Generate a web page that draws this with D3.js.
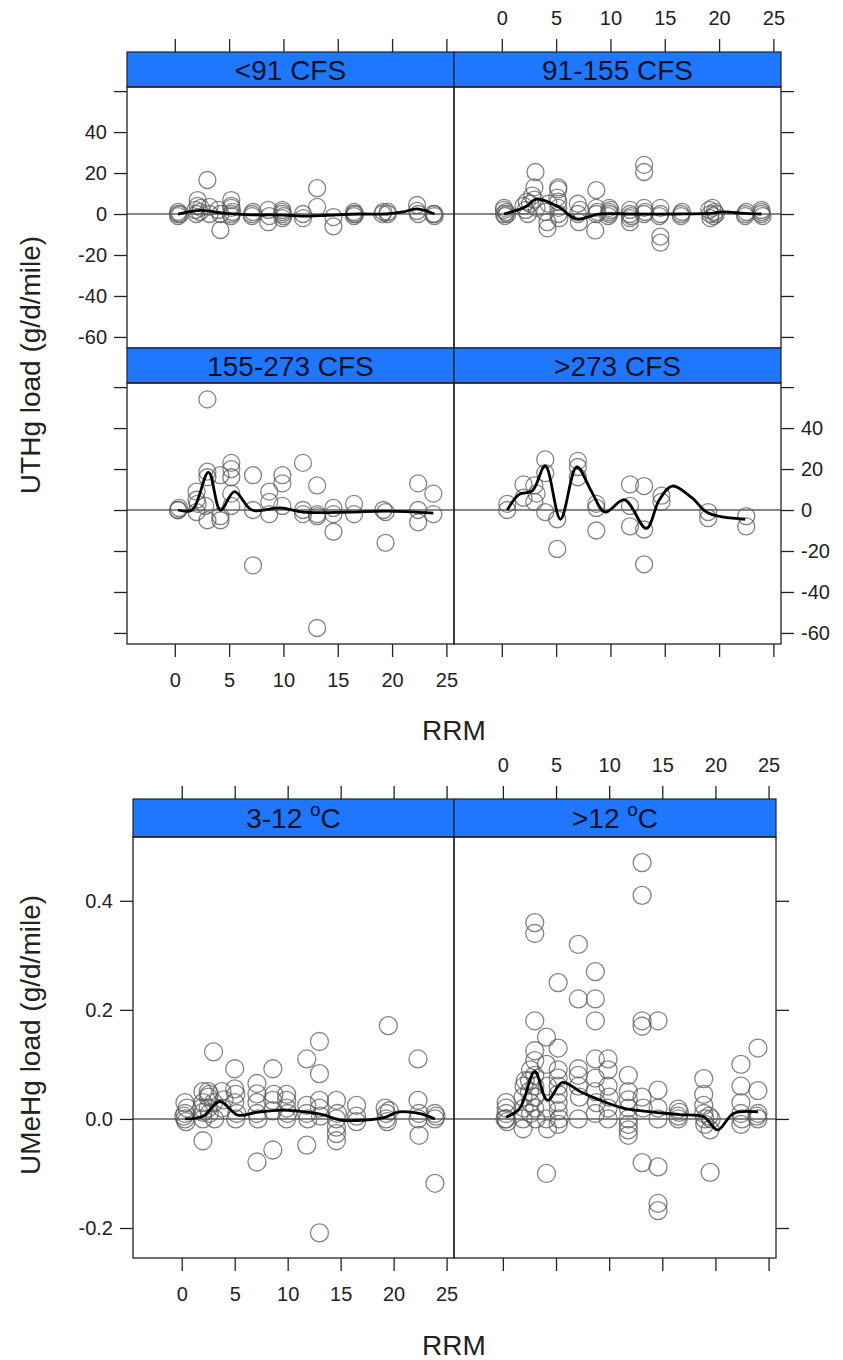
<!DOCTYPE html>
<html>
<head>
<meta charset="utf-8">
<script src="https://cdn.jsdelivr.net/npm/d3@7"></script>
<style>
  body { margin: 0; background: #fff; }
  svg { display: block; font-family: "Liberation Sans", Arial, sans-serif; }
</style>
</head>
<body>
<svg id="chart" width="843" height="1360"></svg>
<script>
/// RRM panels: UTHg by flow class, UMeHg by temperature class ///

// axis ticks
const rrmTicks = [0, 5, 10, 15, 20, 25];
const uthgTicks = [-60, -40, -20, 0, 20, 40, 60];
const uthgTickLabels = ["-60", "-40", "-20", "0", "20", "40", ""];
const umehgTicks = [-0.2, 0, 0.2, 0.4];
const umehgTickLabels = ["-0.2", "0.0", "0.2", "0.4"];

// panel labels
const flowClasses = ["<91 CFS", "91-155 CFS", "155-273 CFS", ">273 CFS"];
const tempClasses = ["3-12", ">12"];

// UTHg load, [RRM, g/d/mile]
const uthgFlow1 = [[0.3,0],[0.3,1],[0.3,-1],[0.5,0],[1.9,2],[2.1,4],[2.1,6.8],[2.3,1],[2.4,3],[2.0,0],
  [3.0,16.6],[3.2,3.5],[3.2,0],[4.2,-7.8],[4.2,0],[4.0,2],[5.2,6.8],[5.2,4],[5.2,3],[5.2,0],[5.2,-1],[5.3,1],
  [7.1,0],[7.1,-1],[7.2,1],[8.6,-4],[8.6,2],[8.7,-1],[9.9,0],[9.9,2],[9.9,-2],[9.9,1],[10.0,-1],
  [11.8,-2],[11.8,0],[13.1,12.6],[13.1,3.5],[14.6,-6],[14.6,-1.5],[16.5,0],[16.5,1],[16.5,-1],[16.6,0],
  [19.1,0],[19.2,1],[19.6,0],[19.6,1],[22.3,4.4],[22.3,1.5],[22.4,0],[23.9,0],[23.9,-1],[23.8,0]];
const uthgFlow1Fit = [[0.3,0],[2.4,1.8],[4.5,0.4],[7,-0.4],[10,-0.5],[12,-1],[14,-0.6],[17,0],[19.5,0],[21,1],[22.3,2.5],[23.9,0]];

const uthgFlow2 = [[0.2,0],[0.2,2],[0.2,3],[0.3,-1],[0.4,1],[0.5,0],
  [2.0,4],[2.2,2],[2.3,6],[2.4,0],[2.6,5],[2.8,9],[3.0,13],[3.1,20.5],[3.2,3],[3.0,7],
  [4.2,-7],[4.2,-4],[4.0,1],[4.3,5],[5.2,13],[5.2,12],[5.2,6],[5.2,3],[5.2,0],[5.3,-2],[5.1,8],
  [7.0,5],[7.0,0],[7.1,-4],[7.2,2],[8.7,11.7],[8.7,3],[8.7,0],[8.6,-8],[8.8,1],
  [9.9,3],[9.9,0],[9.9,1],[10.0,2],[9.8,-1],[11.8,2],[11.8,0],[11.8,-2],[11.8,-4],[11.9,-1],
  [13.1,24],[13.1,20.5],[13.1,3],[13.1,0],[13.2,1],[14.6,3],[14.6,0],[14.6,-11],[14.6,-14],[14.5,-1],
  [16.5,0],[16.5,-1],[16.6,1],[19.1,2],[19.2,0],[19.2,-2],[19.4,3],[19.6,1],[19.7,0],[19.5,-1],
  [22.4,0],[22.5,1],[22.4,-1],[23.9,1],[23.9,0],[24.0,-1],[23.9,2]];
const uthgFlow2Fit = [[0.2,0],[2.2,3.6],[3.2,7.3],[5.2,3.5],[6.9,-2.5],[8.9,0],[12,0],[16,0],[19.2,0.3],[20.3,1],[22.4,0.3],[23.9,0]];

const uthgFlow3 = [[0.3,0],[0.3,0],[0.4,1],[2.0,9],[2.0,5],[2.1,3],[2.0,-1],
  [3.0,54],[3.0,18.7],[3.0,16],[3.0,-5],[2.8,2],[4.2,17],[4.2,-5],[4.2,-3],
  [5.2,23],[5.2,20],[5.2,16],[5.2,8],[5.2,2],[7.2,17],[7.2,-27],[7.2,0],
  [8.7,9],[8.7,4],[8.7,-2],[9.9,17],[9.9,13],[9.9,2],[11.8,23],[11.8,0],[11.8,-2],
  [13.1,12],[13.1,-57.6],[13.1,-2],[13.1,-3],[14.6,-10.6],[14.6,1],[14.6,-2],
  [16.5,3],[16.5,-2],[19.4,-1],[19.4,-16],[19.2,0],[22.4,13],[22.4,0],[22.4,-6],[23.8,8],[23.8,-2]];
const uthgFlow3Fit = [[0.3,0],[1.6,0],[3.1,18.4],[4.2,0],[5.5,9],[7.1,0],[9.7,1],[11.8,-1],[16,-1],[19.5,-0.5],[23.8,-1.5]];

const uthgFlow4 = [[0.5,3],[0.5,0],[2.0,12.5],[2.0,6],[3.0,12],[3.0,4],[3.2,8],
  [4.0,24.7],[4.0,18],[4.0,-1],[5.1,-4.5],[5.1,-19],[7.0,24],[7.0,21],[7.0,16],
  [8.7,3],[8.7,1],[8.7,-10],[11.8,12.5],[11.8,2],[11.8,-8],[13.1,11.7],[13.1,-9.5],[13.1,-26.5],
  [14.7,7],[14.7,4],[19.0,-1],[19.0,-4],[22.5,-3],[22.5,-8]];
const uthgFlow4Fit = [[0.5,0],[1.6,7.6],[2.8,9.3],[4.0,21.5],[5.4,-4.5],[6.9,21],[8.3,8.6],[9.5,-1],[11.3,5],
  [13.3,-9],[14.5,5],[15.7,11.7],[17.5,6],[19,-1.5],[22.4,-4.5]];

// UMeHg load, [RRM, g/d/mile]
const umehgTemp1 = [[0.3,0.03],[0.3,0.01],[0.3,0],[0.4,-0.005],[0.5,0.02],[0.2,0.005],
  [2.0,0.05],[2.0,0.03],[2.0,0.012],[2.0,0],[2.0,-0.04],[1.9,0.02],
  [2.5,0.05],[2.5,0.04],[2.5,0.02],[2.6,0.01],[2.6,0.045],[3.0,0.123],[3.0,0.03],[3.1,0],
  [3.8,0.05],[3.8,0.02],[4.0,0.035],[5.0,0.092],[5.0,0.055],[5.0,0.03],[5.1,0],[5.2,0.01],[5.1,0.045],
  [7.1,0.065],[7.1,0.046],[7.1,0.03],[7.1,0.01],[7.1,-0.079],[7.2,0],
  [8.6,0.092],[8.6,0.034],[8.6,0.015],[8.6,-0.057],[8.7,0.045],
  [9.9,0.045],[9.9,0.034],[9.9,0.02],[9.9,0],[10.0,0.01],
  [11.8,0.11],[11.8,0.025],[11.8,0.01],[11.8,-0.048],[11.9,0],
  [13.0,0.142],[13.0,0.083],[13.0,0.034],[13.0,0.02],[13.0,-0.209],[13.1,0.005],
  [14.6,0.034],[14.6,0],[14.6,-0.015],[14.6,-0.027],[14.6,-0.04],[14.7,0.01],
  [16.5,0.025],[16.5,0.005],[16.5,-0.005],[19.2,0.02],[19.3,0.01],[19.3,0],[19.4,-0.005],[19.5,0.171],[19.6,0.015],
  [22.3,0.11],[22.3,0.034],[22.4,0.01],[22.4,-0.03],[22.3,0],[23.9,0],[23.9,0.01],[23.9,-0.118],[24.0,0.005]];
const umehgTemp1Fit = [[0.3,0],[2,0.005],[3.6,0.032],[5.3,0.007],[7.1,0.012],[9.5,0.016],[12,0.012],[13.5,0.007],
  [15,-0.002],[19,0.002],[20.5,0.013],[22.4,0.01],[23.9,0]];

const umehgTemp2 = [[0.3,0.03],[0.3,0.02],[0.3,0.01],[0.3,0],[0.4,-0.005],[0.2,0],
  [1.9,-0.018],[1.9,0.04],[2.0,0.02],[2.0,0.06],[1.9,0],[2.1,0.07],
  [2.5,0.05],[2.6,0.03],[2.5,0.07],[2.6,0.01],[2.6,0.09],
  [3.0,0.36],[3.0,0.34],[3.0,0.18],[3.0,0.125],[3.0,0.107],[3.0,0.08],[3.0,0.06],[3.0,0.04],[3.0,0.02],[3.1,0],
  [4.1,0.15],[4.1,0.1],[4.2,0.06],[4.1,0.02],[4.1,0],[4.2,-0.018],[4.1,-0.1],
  [5.2,0.25],[5.2,0.13],[5.2,0.09],[5.2,0.075],[5.2,0.06],[5.2,0.045],[5.2,0.03],[5.2,0.015],[5.3,0],[5.2,-0.01],
  [7.1,0.32],[7.1,0.22],[7.1,0.092],[7.1,0.08],[7.1,0.06],[7.2,0.04],[7.1,0],
  [8.7,0.27],[8.7,0.22],[8.7,0.18],[8.7,0.11],[8.7,0.075],[8.7,0.05],[8.8,0.03],[8.7,0.01],
  [9.9,0.11],[9.9,0.09],[9.9,0.06],[10.0,0.04],[9.9,0.02],[9.9,0],
  [11.8,0.08],[11.8,0.05],[11.8,0.035],[11.8,0.02],[11.8,0],[11.8,-0.01],[11.8,-0.02],[11.8,-0.03],
  [13.1,0.47],[13.1,0.41],[13.1,0.18],[13.1,0.17],[13.1,0.04],[13.2,0.02],[13.1,-0.08],
  [14.6,0.18],[14.6,0.053],[14.6,0.02],[14.6,0],[14.6,-0.088],[14.6,-0.155],[14.6,-0.168],
  [16.5,0.018],[16.5,0.005],[16.5,0],[16.6,0.012],
  [18.9,0.074],[18.9,0.045],[18.9,0.025],[18.9,0.01],[19.0,0],[19.0,-0.01],
  [19.5,-0.02],[19.5,-0.098],[19.4,0.005],[19.6,0],
  [22.4,0.1],[22.4,0.06],[22.4,0.03],[22.4,0.01],[22.5,0],[22.4,-0.01],
  [24.0,0.13],[24.0,0.052],[24.0,0.01],[24.0,0],[23.9,0.005]];
const umehgTemp2Fit = [[0.3,0.003],[1.6,0.02],[3.0,0.087],[4.2,0.034],[5.6,0.067],[7.3,0.05],[9.2,0.034],[11.3,0.02],
  [13.5,0.014],[16.6,0.008],[18.9,0.004],[20.2,-0.02],[21.7,0.01],[24,0.013]];

const svg = d3.select("#chart");
const stripBlue = "#1f77ff";
const tickLen = 13;

function drawPanel(p) {
  const x = d3.scaleLinear().domain(p.xDomain).range([p.left, p.right]);
  const y = d3.scaleLinear().domain(p.yDomain).range([p.bottom, p.top]);
  const g = svg.append("g");

  // strip
  const sTop = p.top - p.stripH;
  g.append("rect")
    .attr("x", p.left).attr("y", sTop)
    .attr("width", p.right - p.left).attr("height", p.stripH)
    .attr("fill", stripBlue).attr("stroke", "#1b2233").attr("stroke-width", 1.2);
  const st = g.append("text")
    .attr("x", (p.left + p.right) / 2).attr("y", sTop + p.stripH / 2 + 10)
    .attr("text-anchor", "middle").attr("font-size", 28).attr("fill", "#0a1128");
  if (p.degree) {
    st.append("tspan").text(p.label + " ");
    st.append("tspan").text("o").attr("font-size", 19).attr("dy", -12);
    st.append("tspan").text("C").attr("dy", 12);
  } else {
    st.text(p.label);
  }

  // zero reference
  g.append("line")
    .attr("x1", p.left).attr("x2", p.right)
    .attr("y1", y(0)).attr("y2", y(0))
    .attr("stroke", "#111").attr("stroke-width", 1.1);

  g.append("g").selectAll("circle")
    .data(p.pts).join("circle")
    .attr("cx", d => x(d[0])).attr("cy", d => y(d[1]))
    .attr("r", p.r)
    .attr("fill", "none").attr("stroke", "#5a5a5a")
    .attr("stroke-opacity", 0.75).attr("stroke-width", 1.3);

  g.append("path")
    .datum(p.fit)
    .attr("d", d3.line().x(d => x(d[0])).y(d => y(d[1])).curve(d3.curveCatmullRom.alpha(0.5)))
    .attr("fill", "none").attr("stroke", "#000").attr("stroke-width", 2.8)
    .attr("stroke-linejoin", "round");

  g.append("rect")
    .attr("x", p.left).attr("y", p.top)
    .attr("width", p.right - p.left).attr("height", p.bottom - p.top)
    .attr("fill", "none").attr("stroke", "#222").attr("stroke-width", 1.3);

  const styleAxis = sel => {
    sel.select(".domain").remove();
    sel.selectAll(".tick line").attr("stroke", "#222").attr("stroke-width", 1.3);
    sel.selectAll(".tick text").attr("font-size", 20).attr("fill", "#222")
      .attr("font-family", "'Liberation Sans', Arial, sans-serif");
  };
  const fmt = (labels, show) => (d, i) => show ? labels[i] : "";

  if (p.xTop) {
    g.append("g").attr("transform", `translate(0,${sTop})`)
      .call(d3.axisTop(x).tickValues(rrmTicks).tickSize(tickLen).tickPadding(14)
        .tickFormat(fmt(rrmTicks.map(String), p.xTop === "labels")))
      .call(styleAxis);
  }
  if (p.xBottom) {
    g.append("g").attr("transform", `translate(0,${p.bottom})`)
      .call(d3.axisBottom(x).tickValues(rrmTicks).tickSize(tickLen).tickPadding(16)
        .tickFormat(fmt(rrmTicks.map(String), p.xBottom === "labels")))
      .call(styleAxis);
  }
  if (p.yLeft) {
    g.append("g").attr("transform", `translate(${p.left},0)`)
      .call(d3.axisLeft(y).tickValues(p.yTicks).tickSize(tickLen).tickPadding(7)
        .tickFormat(fmt(p.yLabels, p.yLeft === "labels")))
      .call(styleAxis);
  }
  if (p.yRight) {
    g.append("g").attr("transform", `translate(${p.right},0)`)
      .call(d3.axisRight(y).tickValues(p.yTicks).tickSize(tickLen).tickPadding(7)
        .tickFormat(fmt(p.yLabels, p.yRight === "labels")))
      .call(styleAxis);
  }
}

function axisTitles(cx, cy, yText, xText, xy) {
  svg.append("text")
    .attr("transform", `translate(${cx},${cy}) rotate(-90)`)
    .attr("text-anchor", "middle").attr("font-size", 28).attr("fill", "#222")
    .text(yText);
  svg.append("text")
    .attr("x", xy[0]).attr("y", xy[1])
    .attr("text-anchor", "middle").attr("font-size", 28).attr("fill", "#222")
    .text(xText);
}

// ---- UTHg: 2 x 2 flow classes ----
const uthgPts = [uthgFlow1, uthgFlow2, uthgFlow3, uthgFlow4];
const uthgFits = [uthgFlow1Fit, uthgFlow2Fit, uthgFlow3Fit, uthgFlow4Fit];
const topCols = [[127, 454], [454, 781]];
const topRows = [[87, 348], [383, 644]];
flowClasses.forEach((label, i) => {
  const col = i % 2, row = Math.floor(i / 2);
  drawPanel({
    label, pts: uthgPts[i], fit: uthgFits[i], r: 8.5,
    left: topCols[col][0], right: topCols[col][1],
    top: topRows[row][0], bottom: topRows[row][1], stripH: 35,
    xDomain: [-4.4, 25.7], yDomain: [-65.4, 62],
    yTicks: uthgTicks, yLabels: uthgTickLabels,
    xTop: row === 0 ? (col === 1 ? "labels" : "ticks") : null,
    xBottom: row === 1 ? (col === 0 ? "labels" : "ticks") : null,
    yLeft: col === 0 ? (row === 0 ? "labels" : "ticks") : null,
    yRight: col === 1 ? (row === 1 ? "labels" : "ticks") : null
  });
});
axisTitles(40, 365, "UTHg load (g/d/mile)", "RRM", [454, 740]);

// ---- UMeHg: 1 x 2 temperature classes ----
const umehgPts = [umehgTemp1, umehgTemp2];
const umehgFits = [umehgTemp1Fit, umehgTemp2Fit];
const botCols = [[133, 454], [454, 776]];
tempClasses.forEach((label, i) => {
  drawPanel({
    label, degree: true, pts: umehgPts[i], fit: umehgFits[i], r: 9,
    left: botCols[i][0], right: botCols[i][1],
    top: 837, bottom: 1258, stripH: 38,
    xDomain: [-4.6, 25.7], yDomain: [-0.255, 0.517],
    yTicks: umehgTicks, yLabels: umehgTickLabels,
    xTop: i === 1 ? "labels" : "ticks",
    xBottom: i === 0 ? "labels" : "ticks",
    yLeft: i === 0 ? "labels" : null,
    yRight: i === 1 ? "ticks" : null
  });
});
axisTitles(40, 1035, "UMeHg load (g/d/mile)", "RRM", [454, 1355]);
</script>
</body>
</html>
